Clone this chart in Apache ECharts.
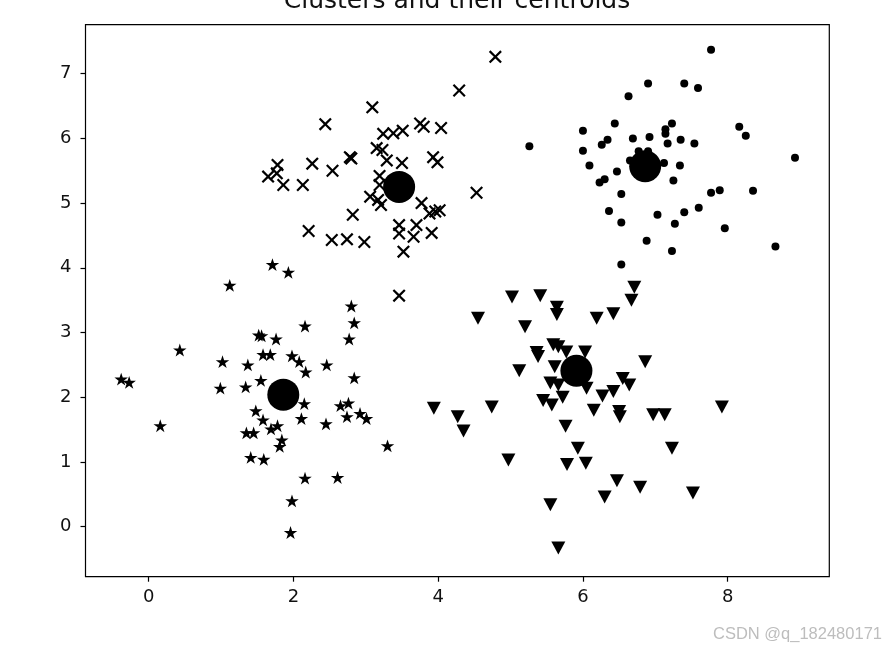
<!DOCTYPE html>
<html>
<head>
<meta charset="utf-8">
<script src="https://cdn.jsdelivr.net/npm/echarts@6/dist/echarts.min.js"></script>
<style>
  html, body { margin: 0; padding: 0; background: #fff; }
  #chart { width: 885px; height: 649px; }
</style>
</head>
<body>
<div id="chart"></div>
<script>
// cluster 1 (x markers)
const crossPts = [
  [4.79, 7.26], [4.29, 6.74], [3.09, 6.48], [2.44, 6.22], [3.24, 6.07], [3.38, 6.08],
  [3.51, 6.12], [3.75, 6.23], [3.80, 6.18], [4.04, 6.16], [3.15, 5.85], [3.23, 5.82],
  [3.29, 5.66], [3.50, 5.62], [3.93, 5.71], [3.99, 5.63], [2.78, 5.71], [2.80, 5.69],
  [2.26, 5.61], [2.54, 5.50], [1.78, 5.59], [1.65, 5.41], [1.77, 5.46], [1.86, 5.28],
  [2.13, 5.28], [3.19, 5.42], [3.19, 5.28], [3.06, 5.10], [3.17, 5.05], [3.21, 4.97],
  [4.53, 5.16], [3.77, 5.00], [3.88, 4.84], [3.96, 4.87], [4.02, 4.89], [2.82, 4.82],
  [3.46, 4.66], [3.70, 4.66], [3.46, 4.53], [3.66, 4.48], [3.91, 4.54], [2.21, 4.57],
  [2.53, 4.43], [2.74, 4.44], [2.98, 4.40], [3.52, 4.25], [3.46, 3.57]
];

// cluster 2 (dots)
const dotPts = [
  [7.77, 7.37], [6.90, 6.85], [7.40, 6.85], [7.59, 6.78], [6.63, 6.65], [6.44, 6.23],
  [7.23, 6.23], [6.00, 6.12], [7.14, 6.14], [7.14, 6.07], [8.16, 6.18], [8.25, 6.04],
  [5.26, 5.88], [6.34, 5.98], [6.26, 5.90], [6.69, 6.00], [6.92, 6.02], [7.17, 5.92],
  [7.35, 5.98], [7.54, 5.92], [6.00, 5.81], [8.93, 5.70], [6.09, 5.58], [6.65, 5.66],
  [6.77, 5.80], [6.90, 5.80], [7.12, 5.62], [7.34, 5.58], [6.47, 5.49], [6.23, 5.32],
  [6.30, 5.37], [7.25, 5.35], [6.53, 5.14], [7.77, 5.16], [7.89, 5.20], [8.35, 5.19],
  [6.36, 4.88], [7.03, 4.82], [7.40, 4.86], [7.60, 4.93], [6.53, 4.70], [7.27, 4.68],
  [7.96, 4.61], [6.88, 4.42], [7.23, 4.26], [8.66, 4.33], [6.53, 4.05]
];

// cluster 3 (stars)
const starPts = [
  [1.71, 4.05], [1.93, 3.93], [1.12, 3.73], [2.80, 3.41], [2.84, 3.15], [2.16, 3.10],
  [2.77, 2.90], [1.52, 2.96], [1.56, 2.95], [1.76, 2.90], [0.43, 2.73], [1.58, 2.66],
  [1.68, 2.66], [1.98, 2.64], [2.08, 2.55], [2.17, 2.39], [2.46, 2.50], [1.02, 2.55],
  [1.37, 2.50], [-0.38, 2.28], [-0.27, 2.23], [1.55, 2.26], [2.84, 2.30], [0.99, 2.14],
  [1.34, 2.16], [2.15, 1.90], [2.11, 1.67], [1.48, 1.79], [1.58, 1.65], [2.65, 1.87],
  [2.76, 1.91], [2.74, 1.70], [2.92, 1.75], [3.01, 1.67], [2.45, 1.59], [0.16, 1.56],
  [1.35, 1.45], [1.45, 1.45], [1.69, 1.51], [1.78, 1.56], [1.84, 1.34], [1.81, 1.24],
  [3.30, 1.25], [1.41, 1.07], [1.59, 1.04], [2.16, 0.75], [2.61, 0.76], [1.98, 0.40],
  [1.96, -0.09]
];

// cluster 4 (down triangles)
const triPts = [
  [6.71, 3.70], [6.67, 3.50], [5.02, 3.55], [5.41, 3.57], [5.64, 3.39], [5.64, 3.28],
  [4.55, 3.22], [6.19, 3.22], [6.42, 3.29], [5.20, 3.09], [5.59, 2.81], [5.66, 2.78],
  [5.36, 2.69], [5.38, 2.63], [5.77, 2.70], [6.03, 2.70], [6.86, 2.55], [5.61, 2.47],
  [5.12, 2.41], [5.55, 2.22], [5.66, 2.19], [6.05, 2.14], [6.55, 2.29], [6.64, 2.19],
  [6.27, 2.02], [6.42, 2.09], [5.72, 2.00], [5.45, 1.95], [5.57, 1.88], [4.74, 1.85],
  [3.94, 1.83], [4.27, 1.70], [4.35, 1.48], [6.15, 1.80], [6.50, 1.78], [6.51, 1.70],
  [6.97, 1.73], [7.13, 1.73], [7.92, 1.85], [5.76, 1.55], [5.93, 1.21], [7.23, 1.21],
  [4.97, 1.03], [5.78, 0.96], [6.04, 0.98], [6.47, 0.71], [6.79, 0.61], [6.30, 0.46],
  [7.52, 0.52], [5.55, 0.34], [5.66, -0.33]
];

const centroids = [[3.46, 5.25], [6.86, 5.57], [1.86, 2.04], [5.91, 2.41]];

const xTicks = [0, 2, 4, 6, 8];
const yTicks = [0, 1, 2, 3, 4, 5, 6, 7];

const crossPath = 'path://M0,1.2L1.2,0L5,3.8L8.8,0L10,1.2L6.2,5L10,8.8L8.8,10L5,6.2L1.2,10L0,8.8L3.8,5Z';
const starPath = 'path://M95.1,0L117.55,69.1L190.2,69.1L131.4,111.8L153.9,180.9L95.1,138.2L36.3,180.9L58.8,111.8L0,69.1L72.65,69.1Z';
const triPath = 'path://M0,0L2,0L1,2Z';

const font = 'DejaVu Sans';
const chart = echarts.init(document.getElementById('chart'), null, { renderer: 'canvas' });

chart.setOption({
  backgroundColor: '#fff',
  animation: false,
  grid: {
    left: 85.5, right: 55.7, top: 24.7, bottom: 72.3,
    show: true, borderColor: '#000', borderWidth: 1.2, backgroundColor: '#fff'
  },
  xAxis: {
    type: 'value', min: -0.873, max: 9.404,
    splitLine: { show: false },
    axisLine: { show: false, onZero: false },
    axisTick: { show: true, length: 5, lineStyle: { color: '#000', width: 1.2 }, customValues: xTicks },
    axisLabel: { color: '#111', fontFamily: font, fontSize: 18, margin: 12, customValues: xTicks }
  },
  yAxis: {
    type: 'value', min: -0.773, max: 7.757,
    splitLine: { show: false },
    axisLine: { show: false, onZero: false },
    axisTick: { show: true, length: 5, lineStyle: { color: '#000', width: 1.2 }, customValues: yTicks },
    axisLabel: { color: '#111', fontFamily: font, fontSize: 18, margin: 14, customValues: yTicks }
  },
  graphic: [
    {
      type: 'text', x: 457, y: 14,
      style: { text: 'Clusters and their centroids', fill: '#111', font: '25px "DejaVu Sans"', textAlign: 'center', textVerticalAlign: 'bottom' }
    },
    {
      type: 'text', x: 882, y: 634,
      style: { text: 'CSDN @q_182480171', fill: '#bdbdbd', font: '16.5px "Liberation Sans"', textAlign: 'right', textVerticalAlign: 'middle' }
    }
  ],
  series: [
    { type: 'scatter', data: crossPts, symbol: crossPath, symbolSize: 13, itemStyle: { color: '#000', opacity: 1 } },
    { type: 'scatter', data: dotPts, symbol: 'circle', symbolSize: 8, itemStyle: { color: '#000', opacity: 1 } },
    { type: 'scatter', data: starPts, symbol: starPath, symbolSize: [13.5, 12.8], itemStyle: { color: '#000', opacity: 1 } },
    { type: 'scatter', data: triPts, symbol: triPath, symbolSize: [14, 13], itemStyle: { color: '#000', opacity: 1 } },
    { type: 'scatter', data: centroids, symbol: 'circle', symbolSize: 32, itemStyle: { color: '#000', opacity: 1 }, z: 5 }
  ]
});
</script>
</body>
</html>
